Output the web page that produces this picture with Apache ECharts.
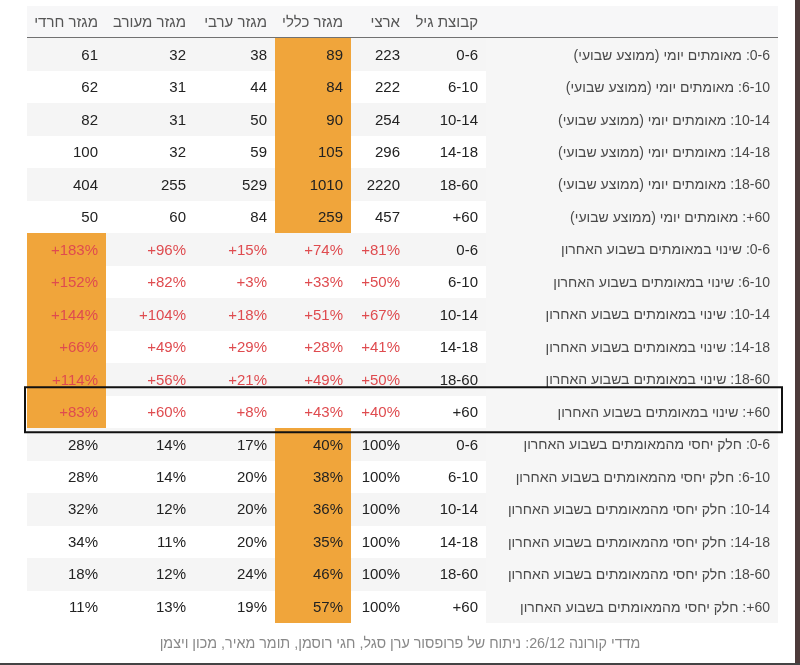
<!DOCTYPE html>
<html><head><meta charset="utf-8">
<script src="https://cdn.jsdelivr.net/npm/echarts@6/dist/echarts.min.js"></script>
<style>html,body{margin:0;padding:0;background:#fff}#c{width:800px;height:665px}</style>
</head><body><div id="c"></div>
<script>
// ---- data ----
const ages = ['0-6', '6-10', '10-14', '14-18', '18-60', '60+'];
const metrics = ['מאומתים יומי (ממוצע שבועי)', 'שינוי במאומתים בשבוע האחרון', 'חלק יחסי מהמאומתים בשבוע האחרון'];
const headers = ['', 'קבוצת גיל', 'ארצי', 'מגזר כללי', 'מגזר ערבי', 'מגזר מעורב', 'מגזר חרדי'];
// daily confirmed (weekly average)
const dailyNational = [223, 222, 254, 296, 2220, 457];
const dailyGeneral  = [89, 84, 90, 105, 1010, 259];
const dailyArab     = [38, 44, 50, 59, 529, 84];
const dailyMixed    = [32, 31, 31, 32, 255, 60];
const dailyHaredi   = [61, 62, 82, 100, 404, 50];
// change in confirmed in the last week (%)
const changeNational = [81, 50, 67, 41, 50, 40];
const changeGeneral  = [74, 33, 51, 28, 49, 43];
const changeArab     = [15, 3, 18, 29, 21, 8];
const changeMixed    = [96, 82, 104, 49, 56, 60];
const changeHaredi   = [183, 152, 144, 66, 114, 83];
// relative share of confirmed in the last week (%)
const shareNational = [100, 100, 100, 100, 100, 100];
const shareGeneral  = [40, 38, 36, 35, 46, 57];
const shareArab     = [17, 20, 20, 20, 24, 19];
const shareMixed    = [14, 14, 12, 11, 12, 13];
const shareHaredi   = [28, 28, 32, 34, 18, 11];
const footerText = 'מדדי קורונה 26/12: ניתוח של פרופסור ערן סגל, חגי רוסמן, תומר מאיר, מכון ויצמן';
const highlightedRow = { block: 1, age: '60+' };

// ---- layout (column boundaries, left to right, in axis units) ----
const edges = [0, 79, 167, 248, 324, 381, 459, 751];
const ORANGE = '#f0a53b', STRIPE = '#f5f5f5', LABELBG = '#f6f6f6', HEADBG = '#f7f7f8';
const FONT = "'Liberation Sans', 'Open Sans', 'DejaVu Sans', sans-serif";
const rtl = s => '\u202B' + s + '\u202C';

const blocks = [
  { vals: [dailyNational, dailyGeneral, dailyArab, dailyMixed, dailyHaredi], fmt: v => String(v), color: '#222' },
  { vals: [changeNational, changeGeneral, changeArab, changeMixed, changeHaredi], fmt: v => (v > 0 ? '+' : '') + v + '%', color: '#df4b4f' },
  { vals: [shareNational, shareGeneral, shareArab, shareMixed, shareHaredi], fmt: v => v + '%', color: '#222' }
];

const rowKeys = ['header'];
const cells = [];
// header row (category index 0); logical column j -> visual column 6-j
headers.forEach((h, j) => {
  cells.push({ value: [6 - j, 0], text: h ? rtl(h) : '', bg: HEADBG, color: '#555', size: 15, header: true });
});
let r = 1;
blocks.forEach((b, bi) => {
  ages.forEach((age, ai) => {
    rowKeys.push(age + ': ' + metrics[bi]);
    const stripe = (r - 1) % 2 === 0 ? STRIPE : '#ffffff';
    const sector = b.vals.slice(1).map(a => a[ai]);
    const maxV = Math.max.apply(null, sector);
    cells.push({ value: [6, r], text: rtl(age + ': ' + metrics[bi]), bg: LABELBG, color: '#4a4a4a', size: 14 });
    cells.push({ value: [5, r], text: rtl(age), bg: stripe, color: '#222', size: 15 });
    b.vals.forEach((arr, k) => {
      const v = arr[ai];
      const hl = k > 0 && v === maxV;
      cells.push({ value: [4 - k, r], text: b.fmt(v), bg: hl ? ORANGE : stripe, color: b.color, size: 15 });
    });
    r++;
  });
});
const hlIndex = rowKeys.indexOf(highlightedRow.age + ': ' + metrics[highlightedRow.block]);

const chart = echarts.init(document.getElementById('c'), null, { renderer: 'canvas' });
chart.setOption({
  animation: false,
  title: {
    text: rtl(footerText), left: 'center', top: 632,
    textStyle: { fontSize: 14.3, fontWeight: 'normal', color: '#888', fontFamily: FONT }
  },
  grid: { left: 27, right: 22, top: 6, bottom: 42 },
  xAxis: { type: 'value', min: 0, max: 751, show: false },
  yAxis: { type: 'category', inverse: true, data: rowKeys, show: false },
  graphic: [
    { type: 'rect', right: 0, top: 0, shape: { width: 5, height: 665 }, style: { fill: '#4d3b3b' }, z: 100 },
    { type: 'rect', left: 0, bottom: 0, shape: { width: 800, height: 2 }, style: { fill: '#444' }, z: 100 }
  ],
  series: [
    {
      type: 'custom',
      data: cells,
      z: 2,
      renderItem: function (params, api) {
        const c = api.value(0), row = api.value(1);
        const cell = cells[params.dataIndex];
        const x0 = Math.round(api.coord([edges[c], row])[0]);
        const x1 = Math.round(api.coord([edges[c + 1], row])[0]);
        const yc = api.coord([0, row])[1];
        const h = api.size([0, 1])[1];
        const yT = Math.round(yc - h / 2), yB = Math.round(yc + h / 2);
        const ch = [{ type: 'rect', shape: { x: x0, y: yT, width: x1 - x0, height: yB - yT }, style: { fill: cell.bg } }];
        if (cell.text) {
          ch.push({ type: 'text', style: { text: cell.text, x: x1 - 8, y: yc + 1, align: 'right', verticalAlign: 'middle', fill: cell.color, fontSize: cell.size, fontFamily: FONT } });
        }
        if (cell.header) {
          ch.push({ type: 'line', shape: { x1: x0, y1: yB, x2: x1, y2: yB }, style: { stroke: '#444', lineWidth: 1.5 } });
        }
        return { type: 'group', children: ch };
      }
    },
    {
      type: 'custom',
      data: [[0, hlIndex]],
      z: 5,
      renderItem: function (params, api) {
        const row = api.value(1);
        const xL = api.coord([edges[0], row])[0] - 2;
        const xR = api.coord([edges[edges.length - 1], row])[0] + 4;
        const yc = api.coord([0, row])[1];
        const h = api.size([0, 1])[1];
        const yT = yc - h / 2 - 8.5, yB = yc + h / 2 + 4;
        return { type: 'rect', shape: { x: xL, y: yT, width: xR - xL, height: yB - yT }, style: { fill: 'none', stroke: '#111', lineWidth: 2 } };
      }
    }
  ]
});
</script></body></html>
